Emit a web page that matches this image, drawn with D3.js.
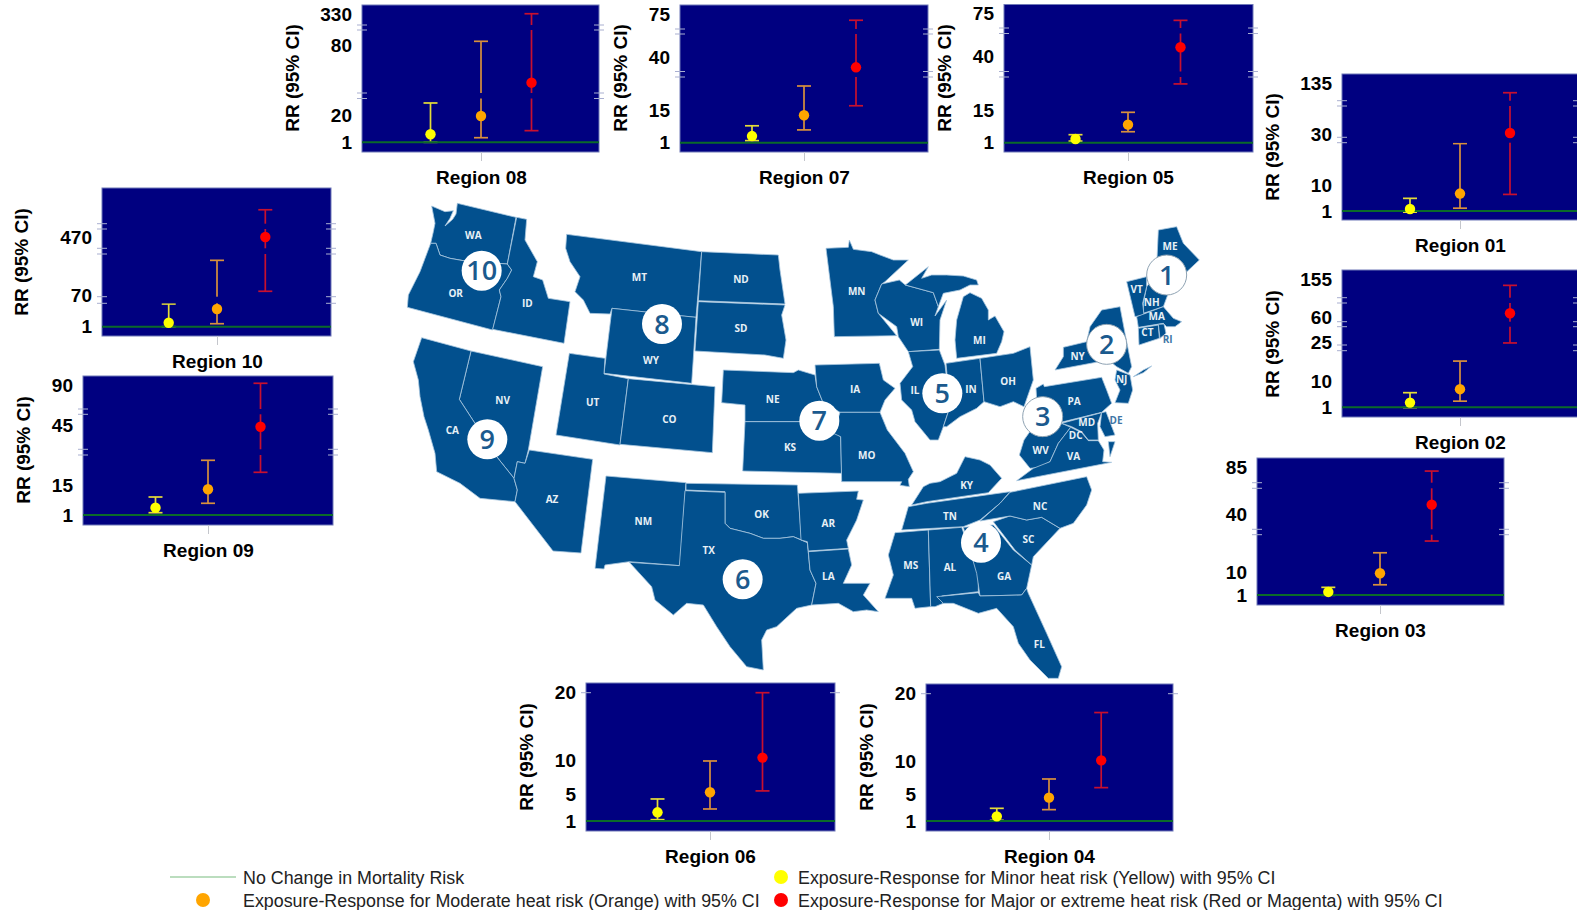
<!DOCTYPE html>
<html>
<head>
<meta charset="utf-8">
<script src="https://cdn.jsdelivr.net/npm/d3@7"></script>
<style>
  html, body { margin: 0; padding: 0; background: #fff; overflow: hidden; }
  text { font-family: "Liberation Sans", Arial, sans-serif; }
</style>
</head>
<body>
<svg id="figure" width="1577" height="910"></svg>
<script>
// values, one entry per panel
const regions = ["Region 08", "Region 07", "Region 05", "Region 01", "Region 02", "Region 03", "Region 10", "Region 09", "Region 06", "Region 04"];
const axisTicks = [[1, 20, 80, 330], [1, 15, 40, 75], [1, 15, 40, 75], [1, 10, 30, 135], [1, 10, 25, 60, 155], [1, 10, 40, 85], [1, 70, 470], [1, 15, 45, 90], [1, 5, 10, 20], [1, 5, 10, 20]];
const minorLow = [1, 1.9, 1.7, 0.6, 0.9, 0.9, 1, 2.1, 1.2, 1.1];
const minorRR = [6.6, 3.9, 2.6, 1.7, 2.6, 2.2, 9.7, 4.5, 2.3, 1.7];
const minorHigh = [30.3, 8.4, 4.5, 5.5, 6, 4, 50.4, 9.6, 4.3, 2.9];
const moderateLow = [4.2, 6.6, 5.8, 2, 3.1, 5, 7.5, 6.6, 2.8, 2.7];
const moderateRR = [19.3, 13, 8.9, 7.2, 7.2, 9.5, 39.5, 13.3, 5.3, 4.5];
const moderateHigh = [110.5, 26.5, 14.3, 26.3, 17.8, 20, 312, 27.7, 9.9, 7.3];
const majorLow = [9.1, 17.3, 27.4, 6.9, 24.9, 26.1, 96, 21.7, 5.5, 6];
const majorRR = [47.7, 35.2, 47.6, 32.1, 70.9, 49.2, 475, 44.5, 10.4, 10.1];
const majorHigh = [338, 70.4, 69.3, 115.5, 140, 81.4, 665, 91.9, 20, 17.2];
const levels = ["Minor", "Moderate", "Major"];

// panel placement; the y axes are broken so each one is piecewise through its ticks
const panelBox = [
  [362, 599, 5, 152], [680, 928, 5, 152], [1004, 1253, 4.5, 152], [1342, 1578, 74, 220],
  [1342, 1578, 270, 417], [1257, 1504, 458, 605], [102, 331, 188, 336], [83, 333, 376, 525],
  [586, 835, 683, 831], [926, 1173, 684, 831]
];
const tickPixels = [
  [142.3, 115, 45, 14.7], [142.7, 110.7, 57, 14.7], [142.7, 110.7, 56.7, 13.3], [211, 185.7, 134, 83.3],
  [407.3, 381, 342.7, 317.7, 279.3], [595, 572, 514.3, 467.3], [326.7, 295, 237.7], [515, 485.7, 425.7, 385],
  [821, 794.3, 760.3, 692.7], [821, 794.3, 761, 693.7]
];
const centerX = [481, 804, 1128, 1460, 1460, 1380, 217, 208, 710, 1049];
const pointStep = [50.5, 52, 52.5, 50, 50, 51.7, 48.3, 52.5, 52.5, 52.2];
const breakPixels = [
  [[25, 30], [93, 98.5]], [[29, 34], [71.5, 77]], [[28, 33.5], [71.5, 77]], [[100.7, 106], [137.3, 142.7]],
  [[297.7, 303], [321.7, 326.7], [345, 350.7]], [[482.7, 488.3], [529.3, 534.7]],
  [[223.7, 229], [248.3, 254], [296.7, 303.3]], [[409, 414.3], [449.3, 455]], [], []
];
const singleMarks = [[], [], [], [], [], [], [], [], [692.7], [693.7]];
const ylabelPos = [[292, 78], [620, 78], [944, 78], [1272, 147], [1272, 344], null, [21, 262], [23, 450], [526, 757], [866, 757]];

const series = [
  { key: "Minor", low: minorLow, rr: minorRR, high: minorHigh, line: "#e4dc38", dot: "#ffff00" },
  { key: "Moderate", low: moderateLow, rr: moderateRR, high: moderateHigh, line: "#d8903c", dot: "#ffa500" },
  { key: "Major", low: majorLow, rr: majorRR, high: majorHigh, line: "#c8102e", dot: "#ff0000" }
];

// state outlines, traced in the units of three map sheets
const sheets = {
  w: d3.geoIdentity().scale(1 / 3).translate([400, 190]),
  e: d3.geoIdentity().scale(1 / 3).translate([800, 210]),
  s: d3.geoIdentity().scale(1 / 3).translate([580, 440])
};
const stateShapes = [
  ["w", "95,48 135,65 160,62 150,85 135,108 158,88 168,72 172,40 348,82 322,222 190,212 150,205 120,195 108,160 92,160 100,125 105,100"],
  ["w", "92,160 108,160 120,195 150,205 190,212 322,222 335,240 322,265 298,300 303,320 278,420 22,352 25,315 60,245"],
  ["w", "350,82 380,88 375,150 412,215 400,260 428,270 445,325 510,335 492,460 278,418 303,320 298,300 322,265 335,240 322,222"],
  ["w", "500,133 905,185 888,382 845,378 725,365 636,355 630,372 570,370 550,330 525,305 540,260 510,215 497,175"],
  ["w", "905,185 1135,195 1140,240 1155,342 895,332"],
  ["w", "895,335 1155,345 1145,375 1158,450 1150,505 1095,495 885,483"],
  ["w", "636,355 888,382 875,580 612,550"],
  ["w", "508,490 615,505 612,552 685,566 660,765 468,735"],
  ["w", "685,566 945,590 937,788 660,763"],
  ["w", "213,483 428,530 385,780 375,820 352,815 342,865 290,800 178,628"],
  ["w", "65,443 213,483 178,628 290,800 342,865 352,900 345,935 240,925 180,880 110,845 105,790 85,720 72,680 60,620 55,570 40,515"],
  ["w", "388,780 578,808 543,1089 459,1083 345,935 352,900 342,865 352,815 375,820"],
  ["w", "970,540 1180,548 1195,540 1245,555 1250,590 1268,635 1285,695 1035,695 1035,645 965,638"],
  ["w", "1035,695 1285,695 1310,732 1322,740 1325,850 1028,843"],
  ["e", "78,115 145,112 148,90 160,118 215,125 240,135 280,150 325,150 255,215 245,222 225,270 235,310 290,377 103,380 100,290"],
  ["e", "245,222 298,210 316,225 400,248 415,290 405,318 440,270 420,330 418,418 325,425 295,380 290,350 235,310 225,270"],
  ["e", "316,225 385,170 365,205 395,195 440,195 490,198 530,210 535,225 510,225 480,240 430,250 415,290 400,248"],
  ["e", "490,260 510,248 545,265 565,300 565,330 585,318 612,365 605,395 590,430 470,445 465,390 470,330"],
  ["e", "325,425 418,420 435,465 450,590 430,650 415,690 390,690 345,635 335,600 305,570 300,520 338,470"],
  ["e", "438,460 540,445 552,575 530,595 480,620 440,650 430,650 450,590"],
  ["e", "540,445 640,430 690,410 700,510 672,590 640,575 600,590 552,575"],
  ["e", "45,465 238,460 250,510 285,535 255,570 240,607 120,607 68,575 50,530"],
  ["e", "120,607 240,607 262,660 315,730 340,785 325,808 328,830 300,826 305,815 125,815 122,680 100,670"],
  ["e", "708,535 730,522 733,530 905,502 920,540 935,580 905,607 770,640 715,650"],
  ["e", "765,480 790,440 790,412 860,395 870,350 905,300 960,290 975,370 995,470 985,490 950,470 925,450"],
  ["e", "1000,500 1030,480 1055,468 1030,488"],
  ["e", "950,480 990,495 998,540 985,580 945,578 960,540 945,510"],
  ["e", "1075,60 1130,50 1150,100 1198,150 1150,195 1110,240 1070,170"],
  ["e", "1040,230 1065,200 1105,250 1090,290 1030,310 1030,280"],
  ["e", "980,215 1040,200 1040,230 1028,280 1032,315 1005,320"],
  ["e", "1010,320 1090,290 1120,325 1145,335 1125,350 1100,350 1090,340 1015,352"],
  ["e", "1015,355 1075,345 1078,385 1017,405"],
  ["e", "1075,343 1092,342 1098,370 1080,385"],
  ["e", "672,690 700,650 785,640 812,652 775,700 750,755 720,772 690,775 658,735"],
  ["e", "650,812 700,775 750,755 775,700 812,652 845,668 865,692 895,692 912,720 908,755 935,757"],
  ["e", "785,640 905,608 893,640 895,690 865,690 845,665 815,650"],
  ["e", "905,608 918,605 945,675 915,680 900,650"],
  ["e", "925,695 945,695 930,740"],
  ["s", "78,108 318,128 300,377 148,365 75,375 72,387 45,385"],
  ["s", "318,130 652,135 665,300 640,290 600,295 550,295 510,280 450,265 435,250 435,155 318,150"],
  ["s", "315,152 435,157 435,250 450,265 510,280 550,295 600,295 640,290 682,308 690,390 708,430 695,495 650,505 590,560 560,570 545,600 550,690 500,680 450,620 410,560 370,495 320,490 280,525 225,480 215,440 148,367 298,377"],
  ["s", "655,160 835,153 830,178 850,180 830,240 800,300 805,325 685,333 682,305 663,300"],
  ["s", "685,335 805,327 815,375 790,430 870,430 850,465 895,515 860,510 820,515 775,490 695,495 708,430 690,390"],
  ["s", "995,195 1030,140 1050,130 1080,125 1130,100 1155,50 1200,60 1230,75 1265,115 1225,158 1040,185"],
  ["s", "965,270 985,200 1040,190 1290,155 1260,190 1200,240 1150,260"],
  ["s", "925,345 945,278 1045,270 1052,500 1005,505 995,475 915,475 940,405"],
  ["s", "1045,270 1145,262 1195,400 1195,455 1085,468 1090,490 1065,500 1052,500"],
  ["s", "1150,262 1240,255 1300,330 1355,375 1340,445 1325,465 1200,468 1190,400"],
  ["s", "1240,245 1290,228 1340,240 1385,232 1440,265 1360,350 1355,375 1305,330 1255,265"],
  ["s", "1290,157 1520,110 1535,150 1520,195 1480,250 1440,265 1385,232 1340,240 1290,228 1200,243 1260,190"],
  ["s", "1070,470 1195,458 1200,468 1325,465 1340,445 1345,460 1400,580 1445,680 1435,715 1405,715 1350,660 1315,610 1300,560 1250,505 1195,520 1120,490 1090,490"]
];
const stateLabels = [
  ["w", "WA", 220, 136], ["w", "OR", 167, 310], ["w", "ID", 382, 340], ["w", "MT", 718, 262], ["w", "ND", 1023, 267],
  ["w", "SD", 1023, 414], ["w", "WY", 753, 510], ["w", "UT", 578, 637], ["w", "CO", 808, 688], ["w", "NV", 308, 630],
  ["w", "CA", 157, 722], ["w", "NE", 1118, 627], ["w", "AZ", 456, 927],
  ["s", "KS", 630, 22], ["s", "MO", 860, 46], ["s", "NM", 190, 245], ["s", "OK", 545, 222], ["s", "AR", 745, 250],
  ["s", "TX", 386, 330], ["s", "LA", 745, 410], ["s", "KY", 1160, 135], ["s", "TN", 1110, 228], ["s", "MS", 992, 376],
  ["s", "AL", 1110, 383], ["s", "GA", 1272, 410], ["s", "SC", 1345, 297], ["s", "NC", 1380, 200], ["s", "FL", 1378, 612],
  ["e", "MN", 170, 245], ["e", "WI", 350, 337], ["e", "MI", 538, 392], ["e", "IL", 345, 542], ["e", "IN", 513, 538],
  ["e", "OH", 624, 514], ["e", "IA", 165, 538], ["e", "NY", 833, 440], ["e", "PA", 822, 573], ["e", "NJ", 965, 507],
  ["e", "ME", 1110, 108], ["e", "VT", 1010, 237], ["e", "NH", 1055, 277], ["e", "MA", 1070, 320], ["e", "CT", 1042, 366],
  ["e", "RI", 1103, 387], ["e", "DE", 948, 630], ["e", "MD", 860, 637], ["e", "DC", 827, 675], ["e", "WV", 722, 720], ["e", "VA", 820, 738]
];
const regionBadges = [
  ["w", "10", 245, 242, false], ["w", "8", 786, 402, false], ["w", "9", 262, 748, false],
  ["e", "7", 58, 632, false], ["e", "5", 427, 550, false], ["e", "1", 1100, 195, true], ["e", "2", 920, 403, true], ["e", "3", 728, 620, true],
  ["s", "6", 488, 418, false], ["s", "4", 1203, 308, false]
];

let svg = d3.select("#figure");

// map first, the panels sit around it
let mapLayer = svg.append("g");
mapLayer
  .selectAll("path")
  .data(stateShapes)
  .enter()
  .append("path")
  .attr("d", function (d) {
    let ring = d[1].split(" ").map((p) => p.split(",").map(Number));
    ring.push(ring[0]);
    return d3.geoPath(sheets[d[0]])({ type: "Polygon", coordinates: [ring] });
  })
  .attr("fill", "#02508e")
  .attr("stroke", "#a9c8e0")
  .attr("stroke-width", 0.8)
  .attr("stroke-linejoin", "round");

mapLayer
  .selectAll(".state")
  .data(stateLabels)
  .enter()
  .append("text")
  .attr("class", "state")
  .attr("transform", (d) => `translate(${sheets[d[0]]([d[2], d[3]])})`)
  .attr("text-anchor", "middle")
  .attr("dy", "0.35em")
  .style("font-family", '"Open Sans", sans-serif')
  .style("font-weight", 700)
  .style("font-size", "10px")
  .attr("fill", (d) => (d[1] === "RI" || d[1] === "DE" ? "#3f76a6" : "#e8f0f6"))
  .text((d) => d[1]);

let badges = mapLayer
  .selectAll(".badge")
  .data(regionBadges)
  .enter()
  .append("g")
  .attr("class", "badge")
  .attr("transform", (d) => `translate(${sheets[d[0]]([d[2], d[3]])})`);
badges
  .append("circle")
  .attr("r", 20)
  .attr("fill", "#fff")
  .attr("stroke", (d) => (d[4] ? "#8fa3b3" : "none"))
  .attr("stroke-width", 1);
badges
  .append("text")
  .attr("text-anchor", "middle")
  .attr("dy", "0.36em")
  .style("font-family", '"Open Sans", sans-serif')
  .style("font-weight", 600)
  .style("font-size", "27px")
  .attr("fill", "#1b5a8e")
  .text((d) => d[1]);

function draw_panel(i) {
  let [x0, x1, y0, y1] = panelBox[i];
  let panel = svg.append("g").attr("class", "panel");

  // piecewise scale through the printed ticks
  let yScale = d3.scaleLinear().domain(axisTicks[i]).range(tickPixels[i]);
  let xScale = d3
    .scalePoint()
    .domain(levels)
    .range([centerX[i] - pointStep[i], centerX[i] + pointStep[i]]);

  panel
    .append("rect")
    .attr("x", x0)
    .attr("y", y0)
    .attr("width", x1 - x0)
    .attr("height", y1 - y0)
    .attr("fill", "#000080")
    .attr("stroke", "#6f78b8")
    .attr("stroke-width", 1);

  let bars = panel.selectAll(".ci").data(series).enter().append("g").attr("class", "ci");
  bars
    .append("line")
    .attr("x1", (d) => xScale(d.key))
    .attr("x2", (d) => xScale(d.key))
    .attr("y1", (d) => yScale(d.low[i]))
    .attr("y2", (d) => yScale(d.high[i]));
  ["low", "high"].forEach(function (end) {
    bars
      .append("line")
      .attr("x1", (d) => xScale(d.key) - 7)
      .attr("x2", (d) => xScale(d.key) + 7)
      .attr("y1", (d) => yScale(d[end][i]))
      .attr("y2", (d) => yScale(d[end][i]));
  });
  bars.selectAll("line").attr("stroke", (d) => d.line).attr("stroke-width", 1.7);

  // axis breaks: a gap through the whiskers, a pair of marks on each edge
  panel
    .selectAll(".gap")
    .data(breakPixels[i])
    .enter()
    .append("rect")
    .attr("class", "gap")
    .attr("x", x0 + 1)
    .attr("width", x1 - x0 - 2)
    .attr("y", (d) => d[0])
    .attr("height", (d) => d[1] - d[0])
    .attr("fill", "#000080");

  panel
    .append("line")
    .attr("x1", x0)
    .attr("x2", x1)
    .attr("y1", yScale(1))
    .attr("y2", yScale(1))
    .attr("stroke", "#0b6a2a")
    .attr("stroke-width", 2);

  panel
    .selectAll(".rr")
    .data(series)
    .enter()
    .append("circle")
    .attr("class", "rr")
    .attr("cx", (d) => xScale(d.key))
    .attr("cy", (d) => yScale(d.rr[i]))
    .attr("r", 5.2)
    .attr("fill", (d) => d.dot);

  let marks = breakPixels[i].flat().concat(singleMarks[i]);
  [x0, x1].forEach(function (edge) {
    panel
      .selectAll(null)
      .data(marks)
      .enter()
      .append("line")
      .attr("x1", edge - 5)
      .attr("x2", edge + 5)
      .attr("y1", (d) => d)
      .attr("y2", (d) => d)
      .attr("stroke", "#a9afd0")
      .attr("stroke-width", 1);
  });

  // tick labels on the left
  let yAxis = d3.axisLeft(yScale).tickValues(axisTicks[i]).tickSize(0).tickPadding(10);
  let yGroup = panel.append("g").attr("transform", `translate(${x0},0)`).call(yAxis);
  yGroup.select(".domain").remove();
  yGroup
    .selectAll("text")
    .style("font-family", '"Liberation Sans", Arial, sans-serif')
    .style("font-size", "19px")
    .style("font-weight", 700)
    .attr("fill", "#000");

  // region name under the single x tick
  let xAxis = d3
    .axisBottom(d3.scalePoint().domain([regions[i]]).range([centerX[i], centerX[i]]))
    .tickSize(9)
    .tickPadding(10);
  let xGroup = panel.append("g").attr("transform", `translate(0,${y1})`).call(xAxis);
  xGroup.select(".domain").remove();
  xGroup.selectAll("line").attr("stroke", "#c4c6cc");
  xGroup
    .selectAll("text")
    .style("font-family", '"Liberation Sans", Arial, sans-serif')
    .style("font-size", "19px")
    .style("font-weight", 700)
    .attr("fill", "#000");

  if (ylabelPos[i]) {
    panel
      .append("text")
      .attr("transform", `translate(${ylabelPos[i][0]},${ylabelPos[i][1]}) rotate(-90)`)
      .attr("text-anchor", "middle")
      .attr("dy", "0.35em")
      .style("font-size", "19px")
      .style("font-weight", 700)
      .text("RR (95% CI)");
  }
}

regions.forEach((name, i) => draw_panel(i));

// legend
let legend = svg.append("g");
legend
  .append("line")
  .attr("x1", 170)
  .attr("x2", 236)
  .attr("y1", 877)
  .attr("y2", 877)
  .attr("stroke", "#a5d2a8")
  .attr("stroke-width", 1.5);
const legendDots = [[203, 900, "#ffa500"], [781, 877, "#ffff00"], [781, 900, "#ff0000"]];
legend
  .selectAll("circle")
  .data(legendDots)
  .enter()
  .append("circle")
  .attr("cx", (d) => d[0])
  .attr("cy", (d) => d[1])
  .attr("r", 7)
  .attr("fill", (d) => d[2]);
const legendTexts = [
  [243, 878, "No Change in Mortality Risk"],
  [243, 901, "Exposure-Response for Moderate heat risk (Orange) with 95% CI"],
  [798, 878, "Exposure-Response for Minor heat risk (Yellow) with 95% CI"],
  [798, 901, "Exposure-Response for Major or extreme heat risk (Red or Magenta) with 95% CI"]
];
legend
  .selectAll("text")
  .data(legendTexts)
  .enter()
  .append("text")
  .attr("x", (d) => d[0])
  .attr("y", (d) => d[1])
  .attr("dy", "0.35em")
  .style("font-size", "17.85px")
  .attr("fill", "#222")
  .text((d) => d[2]);
</script>
</body>
</html>
